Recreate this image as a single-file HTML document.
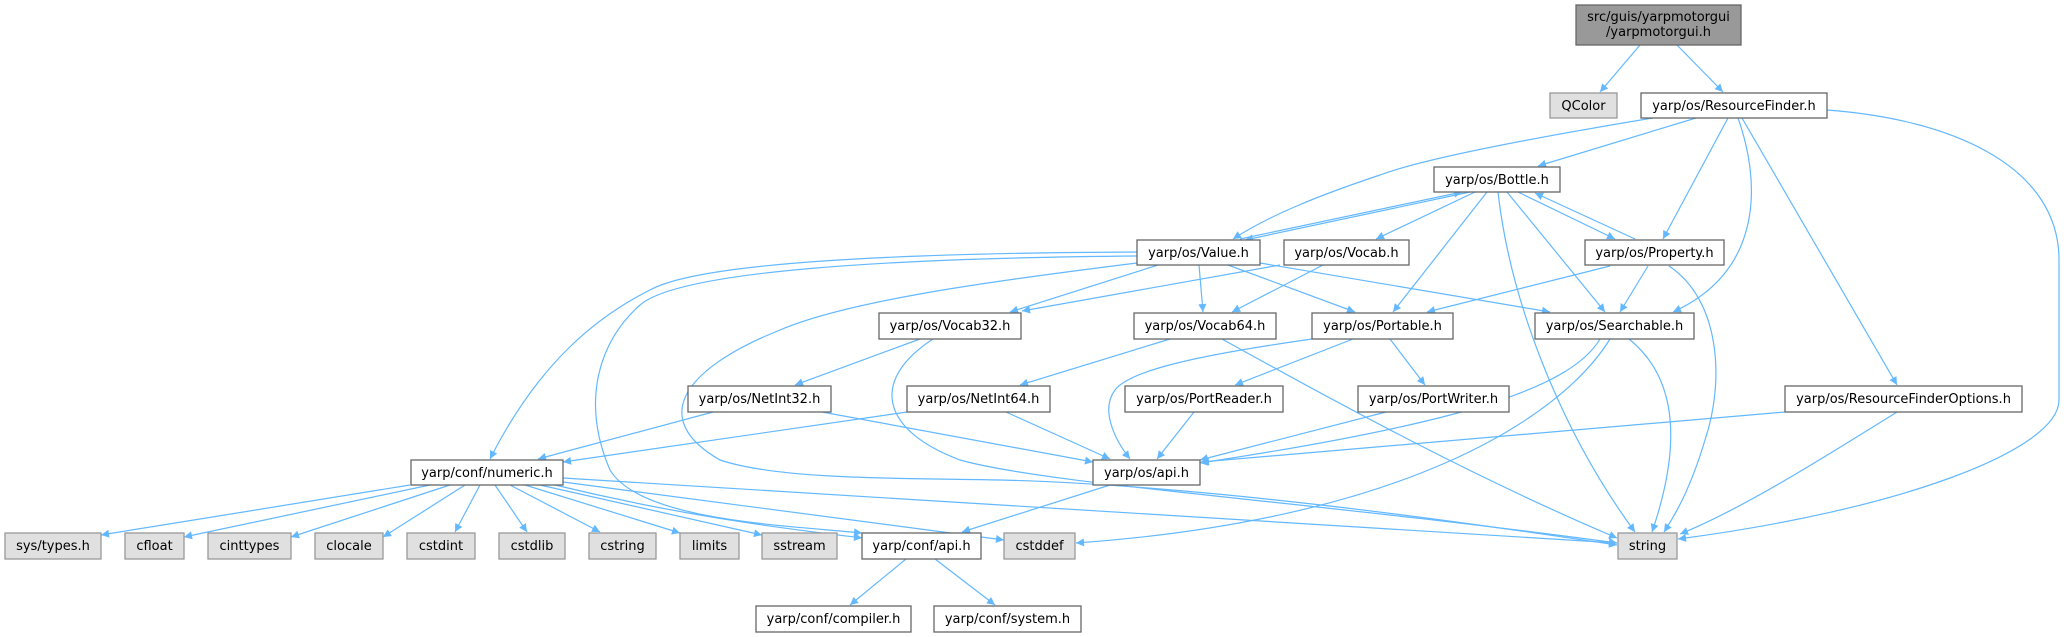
<!DOCTYPE html>
<html><head><meta charset="utf-8"><style>
html,body{margin:0;padding:0;background:#fff;}
svg{display:block;}
text{font-family:"DejaVu Sans","Liberation Sans",sans-serif;font-size:13px;fill:#000;}
.n{fill:#fff;stroke:#666;stroke-width:1.3;}
.g{fill:#e0e0e0;stroke:#999;stroke-width:1.3;}
.e{fill:none;stroke:#63b8ff;stroke-width:1.2;}
</style></head><body>
<svg width="2064" height="637" viewBox="0 0 2064 637" xmlns="http://www.w3.org/2000/svg">
<defs><marker id="a" viewBox="0 0 10 10" refX="10" refY="5" markerWidth="11" markerHeight="8" markerUnits="userSpaceOnUse" orient="auto"><path d="M0,0 L10,5 L0,10 z" fill="#63b8ff"/></marker></defs>
<g class="e" marker-end="url(#a)">
<path d="M1640,45 L1600,92"/>
<path d="M1677,45 L1723,92"/>
<path d="M1653,118 C1520,140 1420,160 1380,175 C1320,195 1270,215 1233,239"/>
<path d="M1696,118 L1538,166"/>
<path d="M1728,118 L1663,239"/>
<path d="M1738,118 C1760,180 1765,270 1673,312"/>
<path d="M1742,118 L1897,385"/>
<path d="M1827,110 C1960,120 2059,170 2059,260 L2059,400 C2059,450 1900,510 1678,539"/>
<path d="M1240,239 L1462,192"/>
<path d="M1470,192 L1245,240"/>
<path d="M1475,192 L1376,239"/>
<path d="M1487,192 L1393,312"/>
<path d="M1498,192 C1510,300 1560,430 1635,532"/>
<path d="M1507,192 L1605,312"/>
<path d="M1518,192 L1615,239"/>
<path d="M1635,239 L1535,193"/>
<path d="M1137,252 C900,253 700,262 650,290 C600,315 540,360 490,459"/>
<path d="M1137,256 C900,258 680,270 640,305 C600,340 580,400 610,470 C640,520 780,525 862,533"/>
<path d="M1137,263 C1000,280 850,300 780,330 C680,370 650,420 720,460 C780,480 900,478 1000,480 C1200,485 1450,520 1617,545"/>
<path d="M1158,265 L1010,312"/>
<path d="M1280,265 L1022,311"/>
<path d="M1199,265 L1203,312"/>
<path d="M1228,265 L1355,312"/>
<path d="M1260,263 L1550,312"/>
<path d="M1610,339 C1560,420 1400,520 1076,543"/>
<path d="M1600,339 C1570,390 1450,425 1200,463"/>
<path d="M1785,412 L1201,462"/>
<path d="M1629,339 C1680,380 1680,450 1652,532"/>
<path d="M1610,266 L1427,312"/>
<path d="M1648,266 L1620,312"/>
<path d="M1669,266 C1720,300 1725,380 1705,440 C1690,490 1675,515 1664,532"/>
<path d="M1323,265 L1232,312"/>
<path d="M920,339 L795,385"/>
<path d="M933,339 C870,380 880,430 960,460 C1050,485 1300,500 1617,543"/>
<path d="M1170,339 L1020,385"/>
<path d="M1222,339 C1350,410 1480,480 1617,538"/>
<path d="M1312,339 C1200,355 1130,370 1115,390 C1100,410 1115,440 1130,459"/>
<path d="M1353,339 L1235,385"/>
<path d="M1390,339 L1425,385"/>
<path d="M1194,412 L1157,459"/>
<path d="M1386,412 L1200,460"/>
<path d="M1897,412 C1820,460 1740,510 1680,534"/>
<path d="M713,412 L538,459"/>
<path d="M822,412 L1093,462"/>
<path d="M907,412 L563,462"/>
<path d="M1006,412 L1110,459"/>
<path d="M1110,485 L962,532"/>
<path d="M906,559 L850,605"/>
<path d="M935,559 L995,605"/>
<path d="M410,485 L101,535"/>
<path d="M430,485 L184,537"/>
<path d="M450,485 L291,537"/>
<path d="M465,485 L383,537"/>
<path d="M480,485 L455,532"/>
<path d="M495,485 L527,532"/>
<path d="M510,485 L600,532"/>
<path d="M525,485 L680,533"/>
<path d="M540,485 L762,535"/>
<path d="M555,485 C700,520 800,530 862,538"/>
<path d="M563,482 L1004,540"/>
<path d="M563,478 L1617,543"/>
</g>
<rect x="1576" y="5" width="165" height="40" fill="#999" stroke="#666" stroke-width="1.3"/>
<text x="1658.5" y="21" text-anchor="middle">src/guis/yarpmotorgui</text>
<text x="1658.5" y="36" text-anchor="middle">/yarpmotorgui.h</text>
<g text-anchor="middle">
<rect class="g" x="1550" y="93" width="67" height="25"/><text x="1583.5" y="110">QColor</text>
<rect class="n" x="1641" y="93" width="186" height="25"/><text x="1734" y="110">yarp/os/ResourceFinder.h</text>
<rect class="n" x="1434" y="167" width="126" height="25"/><text x="1497" y="184">yarp/os/Bottle.h</text>
<rect class="n" x="1137" y="240" width="123" height="25"/><text x="1198.5" y="257">yarp/os/Value.h</text>
<rect class="n" x="1284" y="240" width="125" height="25"/><text x="1346.5" y="257">yarp/os/Vocab.h</text>
<rect class="n" x="1585" y="240" width="139" height="25"/><text x="1654.5" y="257">yarp/os/Property.h</text>
<rect class="n" x="879" y="313" width="142" height="26"/><text x="950" y="330">yarp/os/Vocab32.h</text>
<rect class="n" x="1134" y="313" width="142" height="26"/><text x="1205" y="330">yarp/os/Vocab64.h</text>
<rect class="n" x="1312" y="313" width="141" height="26"/><text x="1382.5" y="330">yarp/os/Portable.h</text>
<rect class="n" x="1535" y="313" width="159" height="26"/><text x="1614.5" y="330">yarp/os/Searchable.h</text>
<rect class="n" x="688" y="386" width="143" height="26"/><text x="759.5" y="403">yarp/os/NetInt32.h</text>
<rect class="n" x="907" y="386" width="143" height="26"/><text x="978.5" y="403">yarp/os/NetInt64.h</text>
<rect class="n" x="1125" y="386" width="158" height="26"/><text x="1204" y="403">yarp/os/PortReader.h</text>
<rect class="n" x="1358" y="386" width="151" height="26"/><text x="1433.5" y="403">yarp/os/PortWriter.h</text>
<rect class="n" x="1785" y="386" width="237" height="26"/><text x="1903.5" y="403">yarp/os/ResourceFinderOptions.h</text>
<rect class="n" x="411" y="460" width="152" height="25"/><text x="487" y="477">yarp/conf/numeric.h</text>
<rect class="n" x="1093" y="460" width="107" height="25"/><text x="1146.5" y="477">yarp/os/api.h</text>
<rect class="g" x="5" y="533" width="96" height="26"/><text x="53" y="550">sys/types.h</text>
<rect class="g" x="125" y="533" width="59" height="26"/><text x="154.5" y="550">cfloat</text>
<rect class="g" x="208" y="533" width="83" height="26"/><text x="249.5" y="550">cinttypes</text>
<rect class="g" x="315" y="533" width="68" height="26"/><text x="349" y="550">clocale</text>
<rect class="g" x="407" y="533" width="68" height="26"/><text x="441" y="550">cstdint</text>
<rect class="g" x="499" y="533" width="66" height="26"/><text x="532" y="550">cstdlib</text>
<rect class="g" x="589" y="533" width="67" height="26"/><text x="622.5" y="550">cstring</text>
<rect class="g" x="680" y="533" width="59" height="26"/><text x="709.5" y="550">limits</text>
<rect class="g" x="762" y="533" width="75" height="26"/><text x="799.5" y="550">sstream</text>
<rect class="n" x="862" y="533" width="119" height="26"/><text x="921.5" y="550">yarp/conf/api.h</text>
<rect class="g" x="1004" y="533" width="71" height="26"/><text x="1039.5" y="550">cstddef</text>
<rect class="g" x="1618" y="533" width="59" height="26"/><text x="1647.5" y="550">string</text>
<rect class="n" x="756" y="606" width="155" height="26"/><text x="833.5" y="623">yarp/conf/compiler.h</text>
<rect class="n" x="934" y="606" width="147" height="26"/><text x="1007.5" y="623">yarp/conf/system.h</text>
</g>
</svg>
</body></html>
